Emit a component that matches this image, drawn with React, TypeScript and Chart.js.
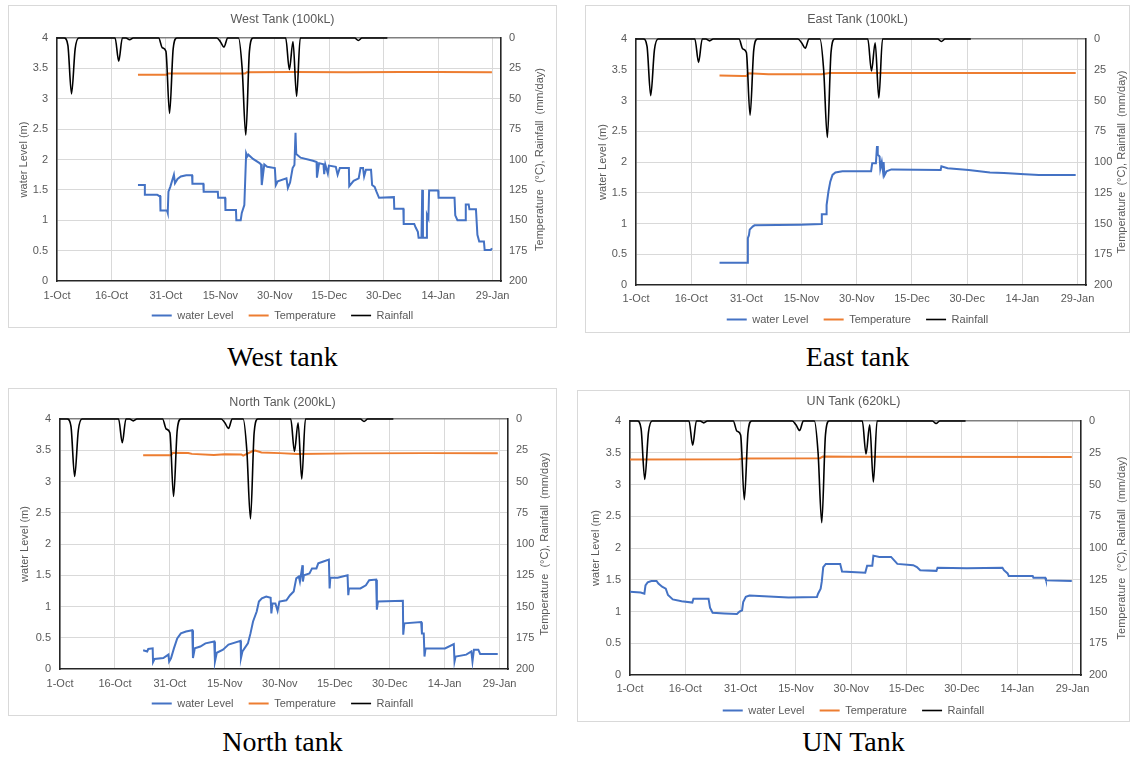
import React, { useEffect, useRef } from "react";
import { Chart, registerables } from "chart.js";

Chart.register(...registerables);

// ---------- shared axis data ----------
const tickDays = [0, 15, 30, 45, 60, 75, 90, 105, 120];
const tickLabels = ["1-Oct", "16-Oct", "31-Oct", "15-Nov", "30-Nov", "15-Dec", "30-Dec", "14-Jan", "29-Jan"];
const seriesNames = ["water Level", "Temperature", "Rainfall"];

// daily rainfall (mm/day), index = days since 1-Oct
const rainfall = [
  0, 0, 0, 6, 46, 9, 0, 0, 0, 0,
  0, 0, 0, 0, 0, 0, 0, 19, 0, 0,
  1.5, 0, 0, 0, 0, 0, 0, 0, 0, 8,
  11, 62, 9, 0, 0, 0, 0, 0, 0, 0,
  0, 0, 0, 0, 0, 3, 7.5, 0, 0, 0,
  0, 25, 80, 11, 0, 0, 0, 0, 0, 0,
  0, 0, 0, 0, 26, 3, 48, 0, 0, 0,
  0, 0, 0, 0, 0, 0, 0, 0, 0, 0,
  0, 0, 0, 2, 0, 0, 0, 0, 0, 0,
  0, 0,
];

// ---------- West tank ----------
const westDays = [22.3, 24.2, 24.2, 27.6, 28.1, 28.4, 28.5, 30.3, 30.5, 30.7, 31.2, 32.2, 32.5, 33.2, 34.1, 35.6, 37.2, 37.3, 40.3, 40.4, 44.3, 44.4, 46.3, 46.4, 49.3, 49.4, 50.6, 50.9, 51.6, 52.1, 52.4, 52.7, 54.0, 55.8, 56.2, 56.4, 57.1, 57.9, 60.0, 60.3, 60.8, 63.2, 63.6, 64.2, 64.9, 65.4, 65.7, 65.9, 67.1, 70.5, 71.5, 71.6, 72.2, 73.4, 73.6, 73.9, 74.6, 74.9, 76.8, 77.3, 77.9, 80.4, 80.5, 81.7, 83.1, 83.6, 84.3, 84.6, 85.1, 86.5, 86.8, 87.5, 88.0, 88.7, 92.8, 92.9, 95.4, 95.5, 98.4, 98.8, 99.4, 99.6, 100.4, 100.6, 100.8, 101.7, 101.9, 102.3, 102.5, 105.0, 105.1, 109.5, 109.7, 110.3, 112.4, 112.6, 113.4, 113.6, 115.4, 115.8, 116.3, 117.6, 117.8, 119.5, 119.8];
const westLevel = [1.58, 1.58, 1.42, 1.42, 1.40, 1.40, 1.16, 1.16, 1.12, 1.47, 1.55, 1.75, 1.61, 1.68, 1.72, 1.74, 1.74, 1.60, 1.60, 1.47, 1.47, 1.37, 1.37, 1.17, 1.17, 1.00, 1.00, 1.12, 1.25, 2.10, 2.05, 2.08, 2.01, 1.94, 1.92, 1.58, 1.92, 1.88, 1.86, 1.58, 1.64, 1.69, 1.53, 1.62, 1.86, 1.91, 2.44, 2.09, 2.03, 1.98, 1.96, 1.70, 1.94, 1.92, 1.76, 1.92, 1.77, 1.90, 1.88, 1.75, 1.86, 1.86, 1.56, 1.65, 1.69, 1.86, 1.86, 1.72, 1.83, 1.83, 1.58, 1.55, 1.47, 1.37, 1.38, 1.19, 1.19, 0.94, 0.94, 0.88, 0.81, 0.71, 0.71, 1.50, 0.71, 0.71, 1.09, 1.03, 1.49, 1.49, 1.37, 1.37, 1.08, 1.00, 1.00, 1.26, 1.26, 1.18, 1.18, 0.76, 0.65, 0.65, 0.51, 0.51, 0.54];
const westTempDays = [22.3, 30.2, 30.5, 51.8, 52.3, 65, 80, 95, 105, 119.8];
const westTemp = [30.2, 30.2, 29.2, 29.3, 28.1, 28.0, 28.1, 27.9, 28.0, 28.2];

// ---------- East tank ----------
const eastDays = [22.7, 30.3, 30.4, 30.7, 30.9, 31.7, 32.2, 44.6, 50.4, 50.5, 51.7, 51.8, 52.3, 52.8, 53.4, 54.2, 56.1, 63.9, 64.2, 65.2, 65.5, 65.7, 66.2, 66.4, 66.8, 67.1, 67.3, 67.5, 68.1, 69.4, 82.8, 83.0, 84.7, 90.4, 96.2, 100.0, 105.7, 109.5, 119.5];
const eastLevel = [0.36, 0.36, 0.76, 0.81, 0.90, 0.95, 0.97, 0.98, 0.99, 1.15, 1.15, 1.30, 1.52, 1.68, 1.79, 1.83, 1.85, 1.85, 1.98, 1.98, 2.26, 2.12, 2.09, 1.89, 2.00, 1.86, 2.00, 1.78, 1.85, 1.88, 1.87, 1.93, 1.90, 1.87, 1.83, 1.82, 1.80, 1.79, 1.79];
const eastTempDays = [22.7, 29.0, 30.1, 30.5, 36.0, 50.5, 52.5, 119.5];
const eastTemp = [29.6, 30.1, 30.1, 27.8, 28.6, 28.6, 27.7, 27.7];

// ---------- North tank ----------
const northDays = [22.7, 23.8, 24.1, 25.3, 25.4, 25.8, 28.2, 29.6, 29.8, 30.3, 31.1, 32.0, 33.0, 34.4, 36.1, 36.3, 36.8, 38.3, 39.7, 42.1, 42.3, 42.8, 44.5, 46.0, 49.3, 49.4, 49.8, 51.3, 52.0, 52.7, 53.7, 54.3, 55.1, 56.3, 57.5, 57.7, 58.0, 58.8, 59.4, 59.9, 61.8, 62.8, 63.8, 64.5, 65.2, 65.5, 66.2, 66.3, 66.6, 68.1, 68.8, 70.0, 70.5, 71.9, 73.4, 73.6, 73.8, 75.8, 78.5, 78.7, 78.9, 82.0, 83.5, 84.4, 86.3, 86.5, 86.8, 93.6, 93.7, 94.0, 98.6, 98.8, 99.3, 99.5, 99.8, 105.1, 107.5, 107.7, 108.0, 110.9, 112.3, 112.6, 113.0, 114.2, 114.7, 119.5];
const northLevel = [0.30, 0.28, 0.32, 0.33, 0.11, 0.16, 0.175, 0.23, 0.12, 0.17, 0.33, 0.49, 0.57, 0.60, 0.62, 0.175, 0.33, 0.36, 0.41, 0.44, 0.12, 0.26, 0.31, 0.39, 0.45, 0.175, 0.28, 0.41, 0.57, 0.76, 0.92, 1.08, 1.13, 1.16, 1.14, 0.89, 1.05, 1.05, 0.93, 1.08, 1.10, 1.18, 1.24, 1.45, 1.48, 1.40, 1.66, 1.40, 1.50, 1.53, 1.61, 1.61, 1.69, 1.72, 1.75, 1.29, 1.46, 1.46, 1.50, 1.18, 1.29, 1.29, 1.34, 1.42, 1.43, 0.95, 1.08, 1.09, 0.55, 0.73, 0.75, 0.57, 0.57, 0.20, 0.33, 0.33, 0.40, 0.12, 0.20, 0.23, 0.28, 0.12, 0.31, 0.31, 0.24, 0.24];
const northTempDays = [22.7, 30.3, 30.8, 35, 36, 42, 45, 49.5, 50, 52.5, 53.3, 55, 60, 64.7, 80, 100, 119.5];
const northTemp = [29.0, 29.0, 27.1, 27.2, 27.9, 28.7, 28.2, 28.4, 29.3, 25.8, 25.2, 26.8, 27.3, 27.9, 27.5, 27.3, 27.4];

// ---------- UN tank ----------
const unDays = [0, 2.9, 3.9, 4.2, 4.8, 5.8, 7.2, 7.7, 8.7, 9.7, 10.3, 11.6, 14.0, 16.9, 17.2, 21.3, 21.7, 22.4, 25.6, 29.0, 29.7, 30.4, 30.7, 31.4, 32.4, 43.0, 50.7, 51.0, 51.7, 52.0, 52.4, 53.1, 57.0, 57.5, 63.8, 64.3, 65.7, 66.0, 67.6, 70.8, 72.5, 76.8, 77.8, 78.7, 83.1, 83.4, 91.3, 101.0, 101.4, 102.4, 102.7, 109.2, 109.4, 112.6, 112.8, 119.8];
const unLevel = [1.31, 1.30, 1.28, 1.41, 1.46, 1.48, 1.48, 1.44, 1.39, 1.36, 1.26, 1.19, 1.16, 1.14, 1.20, 1.20, 1.06, 0.98, 0.97, 0.96, 1.00, 1.02, 1.15, 1.23, 1.25, 1.22, 1.23, 1.28, 1.36, 1.47, 1.70, 1.75, 1.75, 1.63, 1.61, 1.72, 1.72, 1.88, 1.86, 1.86, 1.75, 1.73, 1.70, 1.65, 1.64, 1.69, 1.68, 1.69, 1.65, 1.60, 1.56, 1.56, 1.53, 1.53, 1.49, 1.48];
const unTempDays = [0, 29.5, 31, 51.5, 52.3, 60, 119.8];
const unTemp = [30.3, 30.1, 29.6, 29.3, 28.0, 28.2, 28.3];

// ---------- styling / layout ----------
const GREY = "#595959";
const FONT = "'Liberation Sans', Arial, Helvetica, sans-serif";
const XMAX = 122.3;

type Panel = {
  title: string; caption: string;
  box: number[]; plot: number[];
  titleY: number; xLabelY: number; legendY: number;
  leftTitleX: number; rightTitleX: number; captionY: number;
  days: number[]; level: number[]; tDays: number[]; temp: number[];
};

const panels: Panel[] = [
  { title: "West Tank (100kL)", caption: "West tank", box: [8, 5, 549, 323], plot: [57, 38, 501, 281], titleY: 20, xLabelY: 296, legendY: 315, leftTitleX: 24, rightTitleX: 540, captionY: 358, days: westDays, level: westLevel, tDays: westTempDays, temp: westTemp },
  { title: "East Tank (100kL)", caption: "East tank", box: [585, 5, 545, 328], plot: [636, 39, 1086, 285], titleY: 20, xLabelY: 299, legendY: 319, leftTitleX: 603, rightTitleX: 1122, captionY: 358, days: eastDays, level: eastLevel, tDays: eastTempDays, temp: eastTemp },
  { title: "North Tank (200kL)", caption: "North tank", box: [8, 388, 549, 328], plot: [60, 419, 508, 669], titleY: 403, xLabelY: 684, legendY: 703, leftTitleX: 25, rightTitleX: 545, captionY: 743, days: northDays, level: northLevel, tDays: northTempDays, temp: northTemp },
  { title: "UN Tank (620kL)", caption: "UN Tank", box: [577, 390, 553, 332], plot: [630, 421, 1081, 675], titleY: 402, xLabelY: 689, legendY: 710, leftTitleX: 596, rightTitleX: 1122, captionY: 743, days: unDays, level: unLevel, tDays: unTempDays, temp: unTemp },
];

function pairs(xs: number[], ys: number[]) {
  const n = Math.min(xs.length, ys.length);
  const out: { x: number; y: number }[] = [];
  for (let i = 0; i < n; i++) out.push({ x: xs[i], y: ys[i] });
  return out;
}

function PanelChart({ p }: { p: Panel }) {
  const ref = useRef<HTMLCanvasElement>(null);
  const cl = p.box[0] + 1;
  const ct = p.box[1] + 1;
  const cw = p.box[2] - 2;
  const ch = Math.round(p.legendY - ct + 15.5);

  useEffect(() => {
    if (!ref.current) return;
    const [L, T, R, B] = p.plot;
    const leftW = L - cl;
    const rightW = cl + cw - R;
    const titleLH = 12.5 * 1.2;
    const titleBlock = T - ct;
    const tTop = p.titleY - ct - titleLH / 2;
    const tBottom = titleBlock - tTop - titleLH;
    const legendPad = 6;
    const legendH = 11 + legendPad + 10;
    const xH = ch - legendH - (B - ct);
    const xPad = p.xLabelY - B - 6.6;
    const ltPad = p.leftTitleX - cl - 6.6;
    const rtX = p.rightTitleX - cl;
    const tickFont = { family: FONT, size: 11 };

    const rightTitle = {
      id: "rightTitle",
      afterDraw(chart: any) {
        const { ctx, chartArea } = chart;
        ctx.save();
        ctx.fillStyle = GREY;
        ctx.font = `11px ${FONT}`;
        ctx.textAlign = "center";
        ctx.textBaseline = "middle";
        ctx.translate(rtX, (chartArea.top + chartArea.bottom) / 2);
        ctx.rotate(-Math.PI / 2);
        ctx.fillText("Temperature  (°C), Rainfall  (mm/day)", 0, 0);
        ctx.restore();
      },
    };

    const chart = new Chart(ref.current, {
      type: "line",
      data: {
        datasets: [
          {
            label: seriesNames[0], data: pairs(p.days, p.level), yAxisID: "y",
            borderColor: "#4472C4", backgroundColor: "#4472C4", borderWidth: 2, pointRadius: 0, tension: 0, order: 1,
          },
          {
            label: seriesNames[1], data: pairs(p.tDays, p.temp), yAxisID: "y1",
            borderColor: "#ED7D31", backgroundColor: "#ED7D31", borderWidth: 2, pointRadius: 0, tension: 0, order: 2,
          },
          {
            label: seriesNames[2], data: rainfall.map((v, i) => ({ x: i, y: v })), yAxisID: "y1",
            borderColor: "#000000", backgroundColor: "#000000", borderWidth: 1.6, pointRadius: 0,
            cubicInterpolationMode: "monotone", clip: false as any, order: 0,
          },
        ],
      },
      options: {
        animation: false,
        responsive: false,
        events: [],
        layout: { padding: 0 },
        plugins: {
          title: {
            display: true, text: p.title, color: GREY,
            font: { family: FONT, size: 12.5, weight: "normal" as any },
            padding: { top: tTop, bottom: tBottom },
          },
          legend: {
            position: "bottom",
            labels: {
              usePointStyle: true, pointStyle: "line", pointStyleWidth: 20,
              padding: legendPad, color: GREY, font: { family: FONT, size: 11 },
              generateLabels: (c: any) => {
                const items = (Chart.defaults.plugins.legend.labels as any).generateLabels(c);
                return items.map((it: any) => (it.datasetIndex < 2 ? { ...it, text: it.text + "   " } : it));
              },
              sort: (a: any, b: any) => a.datasetIndex - b.datasetIndex,
            },
          },
          tooltip: { enabled: false },
        },
        scales: {
          x: {
            type: "linear", min: 0, max: XMAX,
            afterBuildTicks: (s: any) => { s.ticks = tickDays.map((v) => ({ value: v })); },
            afterFit: (s: any) => { s.height = xH; },
            ticks: {
              autoSkip: false, maxRotation: 0, padding: xPad, color: GREY, font: tickFont,
              callback: (v: any) => { const i = tickDays.indexOf(Number(v)); return i >= 0 ? tickLabels[i] : ""; },
            },
            grid: {
              drawTicks: false, lineWidth: 1,
              color: (c: any) => (c.tick && c.tick.value === 0 ? "rgba(0,0,0,0)" : "#d9d9d9"),
            },
            border: { display: true, color: "#262626", width: 1.6 },
          },
          y: {
            position: "left", min: 0, max: 4,
            afterFit: (s: any) => { s.width = leftW; },
            ticks: { stepSize: 0.5, padding: 9, color: GREY, font: tickFont, callback: (v: any) => String(Number(v)) },
            grid: {
              drawTicks: false,
              color: (c: any) => (c.tick && c.tick.value === 4 ? "#7f7f7f" : c.tick && c.tick.value === 0 ? "rgba(0,0,0,0)" : "#d9d9d9"),
              lineWidth: (c: any) => (c.tick && c.tick.value === 4 ? 1.5 : 1),
            },
            border: { display: true, color: "#262626", width: 1.6 },
            title: {
              display: true, text: "water Level (m)", color: GREY,
              font: { family: FONT, size: 11 }, padding: { top: ltPad, bottom: 0 },
            },
          },
          y1: {
            position: "right", min: 0, max: 200, reverse: true,
            afterFit: (s: any) => { s.width = rightW; },
            ticks: { stepSize: 25, padding: 8, color: GREY, font: tickFont, callback: (v: any) => String(Number(v)) },
            grid: { display: false, drawTicks: false },
            border: { display: true, color: "#262626", width: 1.6 },
          },
        },
      },
      plugins: [rightTitle],
    } as any);
    return () => chart.destroy();
  }, []);

  return (
    <>
      <div
        style={{
          position: "absolute", left: p.box[0], top: p.box[1], width: p.box[2], height: p.box[3],
          border: "1px solid #d9d9d9", boxSizing: "border-box", background: "#fff",
        }}
      />
      <canvas
        ref={ref}
        width={cw}
        height={ch}
        style={{ position: "absolute", left: cl, top: ct, width: cw, height: ch }}
      />
      <div
        style={{
          position: "absolute", left: p.box[0], top: p.captionY - 15, width: p.box[2], height: 28,
          lineHeight: "28px", textAlign: "center", fontFamily: "'Liberation Serif', 'Times New Roman', serif",
          fontSize: 28, color: "#000", whiteSpace: "nowrap",
        }}
      >
        {p.caption}
      </div>
    </>
  );
}

export default function App() {
  return (
    <div
      style={{
        position: "absolute", left: 0, top: 0, width: 1134, height: 758,
        overflow: "hidden", background: "#fff",
      }}
    >
      {panels.map((p, i) => (
        <PanelChart key={i} p={p} />
      ))}
    </div>
  );
}
